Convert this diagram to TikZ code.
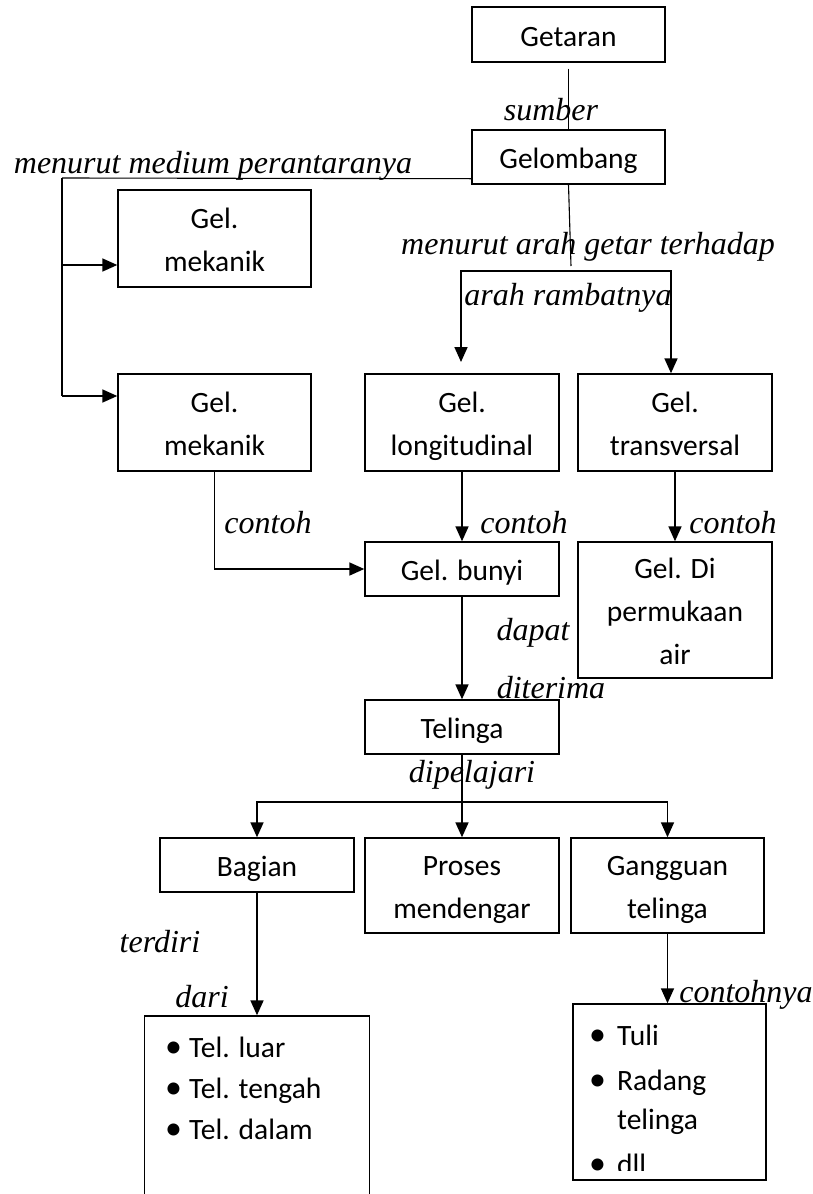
\documentclass[tikz,border=0pt]{standalone}
\usepackage{fontspec}
\usepackage{graphicx}
\setmainfont{Carlito}
\newfontfamily\labserif{Liberation Serif}
\usetikzlibrary{arrows.meta}
\newcommand\bxfont{\fontsize{29.5}{43}\selectfont}
\newcommand\lbfont{\labserif\itshape\fontsize{32}{36}\selectfont}
\newcommand\bxs{\rule[-8pt]{0pt}{39pt}}
\newcommand\bul{\scalebox{1.15}{•}}
\begin{document}
\begin{tikzpicture}[x=1pt,y=-1pt,
  box/.style={draw,line width=1.4pt,inner sep=0pt,align=center,font=\bxfont},
  lbl/.style={font=\lbfont,inner sep=0pt},
  item/.style={font=\bxfont,inner sep=0pt,anchor=base west},
  thinln/.style={line width=1.1pt},
  thk/.style={line width=1.7pt},
  tip/.tip={Triangle[width=13pt,length=15pt]},
  arr/.style={line width=1.7pt,-tip}]
\useasboundingbox (0,0) rectangle (812,1194);
\clip (0,0) rectangle (812,1194);
% boxes
\node[box,minimum width=193pt,minimum height=55pt] (getaran) at (568.5,34.5) {\bxs Getaran};
\node[box,minimum width=193pt,minimum height=54pt] (gelombang) at (568.5,157) {\bxs Gelombang};
\node[box,minimum width=193pt,minimum height=97pt] (mek1) at (214.5,238.5) {\bxs Gel.\\\bxs mekanik};
\node[box,minimum width=193pt,minimum height=97pt] (mek2) at (214.5,422.5) {\bxs Gel.\\\bxs mekanik};
\node[box,minimum width=194pt,minimum height=97pt] (long) at (462,422.5) {\bxs Gel.\\\bxs longitudinal};
\node[box,minimum width=194pt,minimum height=97pt] (trans) at (675,422.5) {\bxs Gel.\\\bxs transversal};
\node[box,minimum width=194pt,minimum height=54pt] (bunyi) at (462,569) {\bxs Gel. bunyi};
\node[box,minimum width=194pt,minimum height=136pt] (geldi) at (675,610) {\bxs Gel. Di\\\bxs permukaan\\\bxs air};
\node[box,minimum width=194pt,minimum height=54pt] (telinga) at (462,727) {\bxs Telinga};
\node[box,minimum width=194pt,minimum height=54pt] (bagian) at (257,865) {\bxs Bagian};
\node[box,minimum width=194pt,minimum height=95pt] (proses) at (462,885.5) {\bxs Proses\\\bxs mendengar};
\node[box,minimum width=193pt,minimum height=95pt] (gangguan) at (667.5,885.5) {\bxs Gangguan\\\bxs telinga};
\node[box,minimum width=225pt,minimum height=200pt] (list1) at (257,1116) {};
\node[box,minimum width=193pt,minimum height=176pt] (list2) at (669.5,1092) {};
% list texts
\node[item] (l1a) at (165,1057) {\makebox[24pt][l]{\bul}Tel. luar};
\node[item] (l1b) at (165,1098) {\makebox[24pt][l]{\bul}Tel. tengah};
\node[item] (l1c) at (165,1139) {\makebox[24pt][l]{\bul}Tel. dalam};
\begin{scope}
\clip (573,1004) rectangle (766,1170);
\node[item] (l2a) at (589,1045) {\makebox[28pt][l]{\bul}Tuli};
\node[item] (l2b) at (589,1090) {\makebox[28pt][l]{\bul}Radang};
\node[item] (l2c) at (589,1129) {\makebox[28pt][l]{}telinga};
\node[item] (l2d) at (589,1174) {\makebox[28pt][l]{\bul}dll};
\end{scope}
% connectors
\draw[thinln] ([yshift=-6pt]getaran.south) -- (gelombang.north);
\coordinate (m0) at (62,178);
\coordinate (m1) at (62,265);
\coordinate (m2) at (62,396);
\draw[thinln] ([yshift=6pt]gelombang.south west) -- (m0);
\draw[thk] (m0) -- (m2);
\draw[arr] (m1) -- (m1 -| mek1.west);
\draw[arr] (m2) -- (m2 -| mek2.west);
\coordinate (a0) at (571,266);
\draw[thinln] (gelombang.south) -- (a0);
\coordinate (a1) at (461,271);
\coordinate (a2) at (671,271);
\coordinate (a3) at (461,362);
\draw[thk,tip-tip] (a3) -- (a1) -- (a2) -- (a2 |- trans.north);
\draw[arr] (mek2.south) |- (bunyi.west);
\draw[arr] (long.south) -- (bunyi.north);
\draw[arr] (trans.south) -- (geldi.north);
\draw[arr] (bunyi.south) -- (telinga.north);
\coordinate (t0) at (462,802);
\draw[thk] (telinga.south) -- (t0);
\draw[arr] (t0) -| (bagian.north);
\draw[arr] (t0) -| (gangguan.north);
\draw[arr] (t0) -- (proses.north);
\draw[arr] (bagian.south) -- (list1.north -| bagian.south);
\draw[arr] (gangguan.south) -- (list2.north -| gangguan.south);
% labels
\node[lbl] (sumber) at (551,110) {sumber};
\node[lbl] (medium) at (213,166) {menurut medium perantaranya};
\node[lbl] (arah1) at (588,247) {menurut arah getar terhadap};
\node[lbl] (arah2) at (568,298) {arah rambatnya};
\node[lbl] (c1) at (268,523) {contoh};
\node[lbl] (c2) at (524,523) {contoh};
\node[lbl] (c3) at (733,523) {contoh};
\node[lbl] (dapat) at (533,633) {dapat};
\node[lbl] (diterima) at (551,688) {diterima};
\node[lbl] (dipelajari) at (472,775) {dipelajari};
\node[lbl] (terdiri) at (160,942) {terdiri};
\node[lbl] (dari) at (202,997) {dari};
\node[lbl] (contohnya) at (746,995) {contohnya};
\end{tikzpicture}
\end{document}
